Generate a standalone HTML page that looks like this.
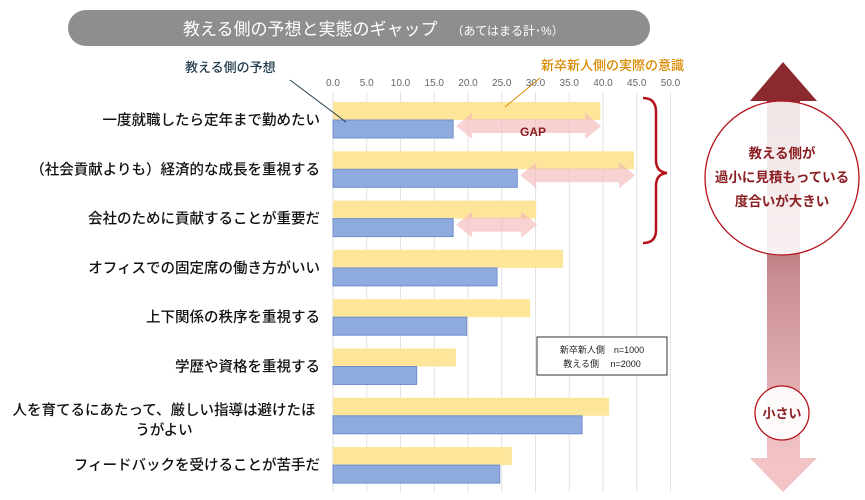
<!DOCTYPE html>
<html><head><meta charset="utf-8">
<style>
body{margin:0;background:#fff;}
svg{display:block;font-family:"Liberation Sans","Noto Sans CJK JP",sans-serif;}
</style></head>
<body>
<svg id="chart" width="865" height="500" viewBox="0 0 865 500">
<defs>
<linearGradient id="arrowGrad" x1="0" y1="0" x2="0" y2="1">
<stop offset="0" stop-color="#8a2a2e"/><stop offset="0.5" stop-color="#c98e92"/><stop offset="1" stop-color="#f2c4c6"/>
</linearGradient>
</defs>
<rect x="68" y="10" width="582" height="36" rx="18" fill="#8e8e90"/>
<text x="183" y="35" font-size="17" fill="#fff">教える側の予想と実態のギャップ<tspan font-size="12" dx="14">（あてはまる計･%）</tspan></text>
<g id="grid"></g>
<g id="bars"></g>
<g id="gaps"></g>
<g id="labels"></g>
<text x="185" y="72" font-size="13" fill="#1f3a4d" font-weight="500">教える側の予想</text>
<line x1="290" y1="80" x2="346" y2="122" stroke="#1f3a4d" stroke-width="1"/>
<text x="541" y="70" font-size="13" fill="#d98a00" font-weight="500">新卒新人側の実際の意識</text>
<line x1="540" y1="78" x2="505" y2="107" stroke="#d98a00" stroke-width="1"/>
<path d="M643,98 Q656,98 656,112 L656,160 Q656,172 667,173 Q656,174 656,186 L656,230 Q656,243 643,243" fill="none" stroke="#b5121b" stroke-width="2.5"/>
<rect x="537" y="337" width="130" height="38" fill="#fff" stroke="#333" stroke-width="1"/>
<text x="602" y="353" font-size="9" text-anchor="middle" fill="#222">新卒新人側　n=1000</text>
<text x="602" y="367" font-size="9" text-anchor="middle" fill="#222">教える側　 n=2000</text>
<g>
<rect x="767" y="98" width="33" height="362" fill="url(#arrowGrad)"/>
<polygon points="783,62 817,101 750,101" fill="#8a2a2e"/>
<polygon points="750,458 817,458 783,492" fill="#f2c4c6"/>
<circle cx="782" cy="178" r="77" fill="#fff" fill-opacity="0.88" stroke="#b5121b" stroke-width="1.3"/>
<text x="782" y="158" font-size="13.5" font-weight="bold" text-anchor="middle" fill="#8a1e22">教える側が</text>
<text x="782" y="182" font-size="13.5" font-weight="bold" text-anchor="middle" fill="#8a1e22">過小に見積もっている</text>
<text x="782" y="206" font-size="13.5" font-weight="bold" text-anchor="middle" fill="#8a1e22">度合いが大きい</text>
<circle cx="782" cy="413" r="27" fill="#fff" fill-opacity="0.92" stroke="#b5121b" stroke-width="1.3"/>
<text x="782" y="418" font-size="13" font-weight="bold" text-anchor="middle" fill="#8a1e22">小さい</text>
</g>
</svg>
<script>
const categories = ["一度就職したら定年まで勤めたい","（社会貢献よりも）経済的な成長を重視する","会社のために貢献することが重要だ","オフィスでの固定席の働き方がいい","上下関係の秩序を重視する","学歴や資格を重視する","人を育てるにあたって、厳しい指導は避けたほうがよい","フィードバックを受けることが苦手だ"];
const newGradValues = [39.6, 44.6, 30.1, 34.1, 29.2, 18.2, 40.9, 26.5];
const teacherValues = [17.8, 27.3, 17.8, 24.3, 19.8, 12.4, 36.9, 24.7];
const tickValues = [0,5,10,15,20,25,30,35,40,45,50];
const gapRows = [0,1,2];

const NS="http://www.w3.org/2000/svg";
const x0=333, pxPer=6.75;
const xs=v=>x0+v*pxPer;
const rowTop=i=>102+i*49.3;
const barH=18;
function mk(tag,attrs,parent){const e=document.createElementNS(NS,tag);for(const k in attrs)e.setAttribute(k,attrs[k]);parent.appendChild(e);return e;}
const grid=document.getElementById('grid'),bars=document.getElementById('bars'),gaps=document.getElementById('gaps'),labels=document.getElementById('labels');
tickValues.forEach(t=>{
  const l=mk('line',{x1:xs(t),x2:xs(t),y1:92,y2:492,stroke:'#e2e2e2','stroke-width':1},grid);
  
  
  const tx=mk('text',{x:xs(t),y:86,'font-size':10,'text-anchor':'middle',fill:'#666'},grid);
  tx.textContent=t.toFixed(1);
  
  
});
categories.forEach((c,i)=>{
  const y=rowTop(i);
  const b1=mk('rect',{x:xs(0),y:y,width:xs(newGradValues[i])-xs(0),height:barH,fill:'#fde69a'},bars);
  
  
  const b2=mk('rect',{x:xs(0),y:y+barH,width:xs(teacherValues[i])-xs(0),height:barH,fill:'#8faadc',stroke:'#6f8fd0','stroke-width':1},bars);
  
  
  const cy=y+barH+5;
  if(i===6){
    const t1=mk('text',{x:164,y:cy-6,'font-size':14.5,'font-weight':500,'text-anchor':'middle',fill:'#111'},labels);
    t1.textContent="人を育てるにあたって、厳しい指導は避けたほ";
    
    
    const t2=mk('text',{x:164,y:cy+14,'font-size':14.5,'font-weight':500,'text-anchor':'middle',fill:'#111'},labels);
    t2.textContent="うがよい";
    
    
  } else {
    const t=mk('text',{x:320,y:cy,'font-size':14.5,'font-weight':500,'text-anchor':'end',fill:'#111'},labels);
    t.textContent=c;
    
    
  }
});
gapRows.forEach(i=>{
  const a=xs(teacherValues[i])+3,b=xs(newGradValues[i])+1;
  const my=rowTop(i)+barH+6;
  const h=7,hh=13,hw=16;
  const p=mk('polygon',{points:`${a},${my} ${a+hw},${my-hh} ${a+hw},${my-h} ${b-hw},${my-h} ${b-hw},${my-hh} ${b},${my} ${b-hw},${my+hh} ${b-hw},${my+h} ${a+hw},${my+h} ${a+hw},${my+hh}`,fill:'#f4b8bc','fill-opacity':0.65},gaps);
  
  
});
const g=mk('text',{x:533,y:136,'font-size':12,'font-weight':'bold','text-anchor':'middle',fill:'#8a1e22'},gaps);
g.textContent="GAP";


</script>
</body></html>
